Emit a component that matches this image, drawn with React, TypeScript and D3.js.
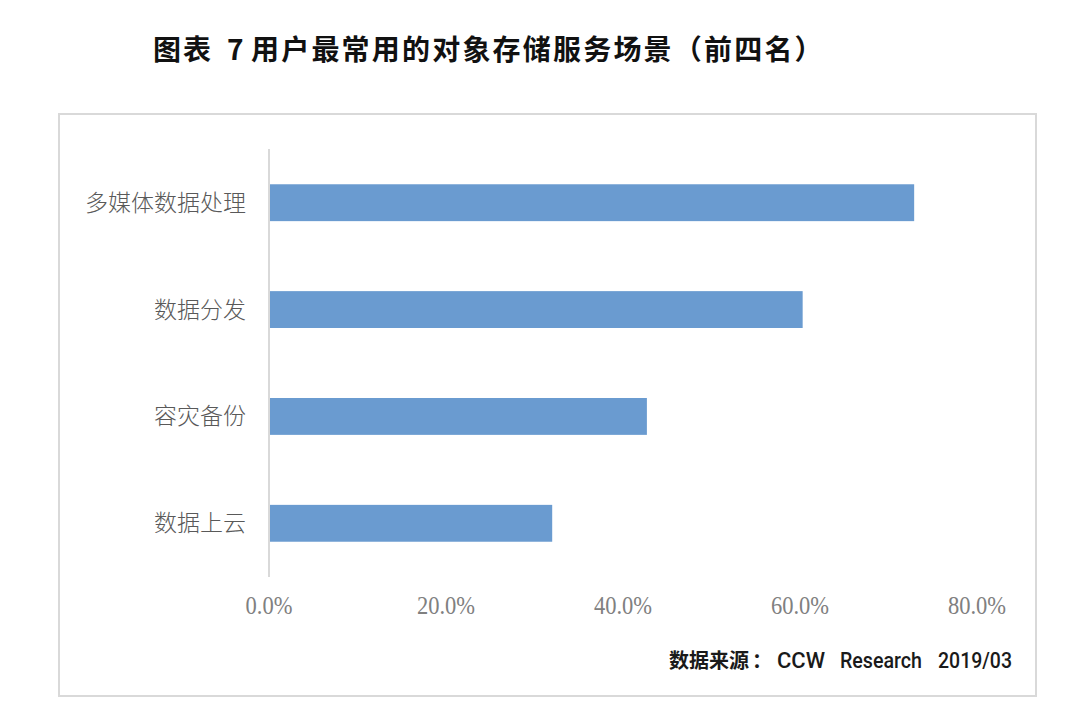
import React from 'react';
import * as d3 from 'd3';

const categories = ['多媒体数据处理', '数据分发', '容灾备份', '数据上云'];
const values = [72.9, 60.3, 42.7, 32.0];
const ticks = [0, 20, 40, 60, 80];

const titleParts = ['图表', '7', '用户最常用的对象存储服务场景（前四名）'];
const sourceParts = ['数据来源', '：', 'CCW', 'Research', '2019/03'];

const W = 1080;
const H = 724;
const plot = { left: 269, right: 977, top: 149, bottom: 577 };

const App = () => {
  const x = d3.scaleLinear().domain([0, 80]).range([plot.left, plot.right]);
  const y = d3
    .scaleBand<string>()
    .domain(categories)
    .range([plot.top, plot.bottom])
    .paddingInner(0.655)
    .paddingOuter(0.33);

  const cjk = '"Noto Sans CJK SC", "Noto Sans", sans-serif';
  const latin = 'Roboto, "Liberation Sans", sans-serif';

  return (
    <svg
      width={W}
      height={H}
      style={{ position: 'absolute', left: 0, top: 0, background: '#fff' }}
    >
      {/* title */}
      <text y={60} fontFamily={cjk} fontWeight={700} fontSize={28} fill="#111">
        <tspan x={153} letterSpacing={2}>{titleParts[0]}</tspan>
        <tspan x={227}>{titleParts[1]}</tspan>
        <tspan x={251} letterSpacing={2.2}>{titleParts[2]}</tspan>
      </text>

      <rect x={59} y={114} width={977} height={582} fill="#fff" stroke="#d9d9d9" strokeWidth={2} />

      {categories.map((c, i) => (
        <rect
          key={c}
          x={x(0)}
          y={y(c)}
          width={x(values[i]) - x(0)}
          height={y.bandwidth()}
          fill="#6a9bd0"
        />
      ))}

      <line x1={x(0)} x2={x(0)} y1={plot.top} y2={plot.bottom} stroke="#d9d9d9" strokeWidth={2} />

      {categories.map((c) => (
        <text
          key={c}
          x={x(0) - 23}
          y={(y(c) ?? 0) + y.bandwidth() / 2}
          dy="0.35em"
          textAnchor="end"
          fontFamily={cjk}
          fontWeight={300}
          fontSize={23}
          fill="#595959"
        >
          {c}
        </text>
      ))}

      {ticks.map((t) => (
        <text
          key={t}
          x={x(t)}
          y={614}
          textAnchor="middle"
          fontFamily='"Liberation Serif", serif'
          fontSize={25}
          fill="#808080"
          transform={`translate(${x(t)},0) scale(0.9,1) translate(${-x(t)},0)`}
        >
          {d3.format('.1f')(t) + '%'}
        </text>
      ))}

      {/* source note */}
      <text y={668} fill="#1a1a1a">
        <tspan x={669} fontFamily={cjk} fontWeight={700} fontSize={20}>{sourceParts[0]}</tspan>
        <tspan x={752} fontFamily={cjk} fontWeight={700} fontSize={20}>{sourceParts[1]}</tspan>
        <tspan x={777} fontFamily={latin} fontWeight={500} fontSize={22} textLength={48} lengthAdjust="spacingAndGlyphs">{sourceParts[2]}</tspan>
        <tspan x={840} fontFamily={latin} fontWeight={500} fontSize={22} textLength={82} lengthAdjust="spacingAndGlyphs">{sourceParts[3]}</tspan>
        <tspan x={938} fontFamily={latin} fontWeight={500} fontSize={22} textLength={74} lengthAdjust="spacingAndGlyphs">{sourceParts[4]}</tspan>
      </text>
    </svg>
  );
};

export default App;
